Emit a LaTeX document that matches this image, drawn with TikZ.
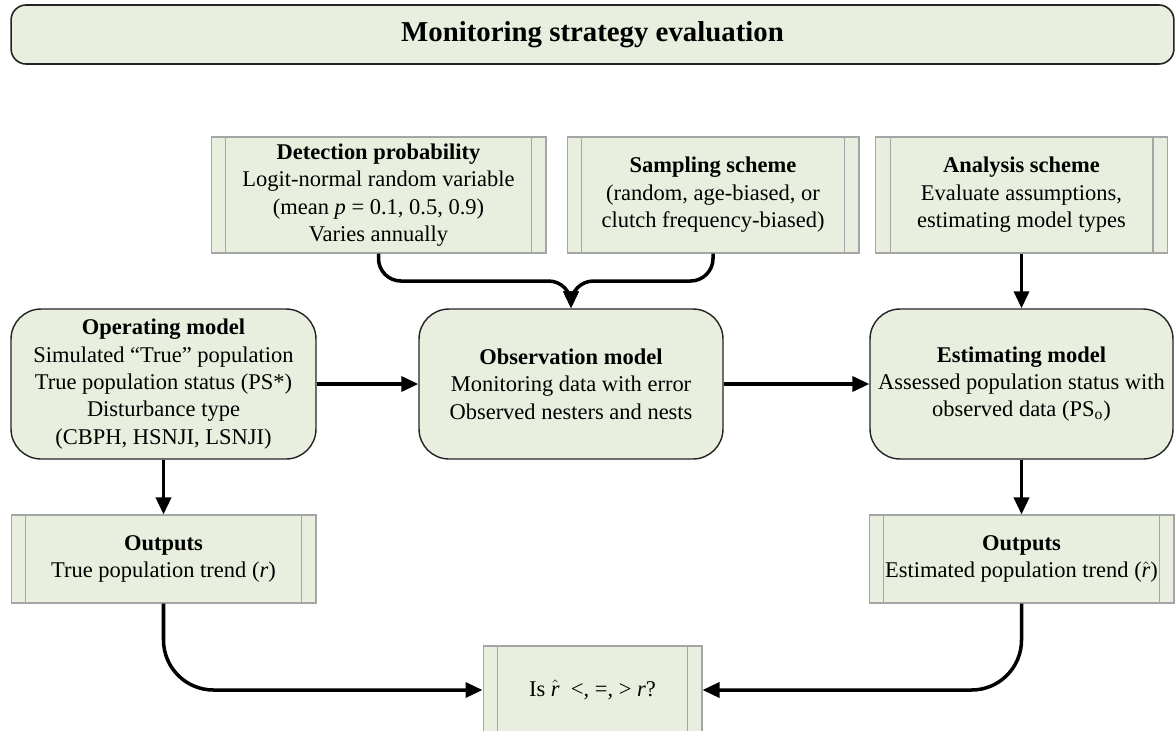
\documentclass[tikz,border=0pt]{standalone}
\usepackage{fontspec}
\setmainfont{Liberation Serif}
\usepackage{tikz}
\usetikzlibrary{arrows.meta, positioning}
\definecolor{boxfill}{RGB}{233,239,222}
\definecolor{edgegray}{RGB}{165,165,165}
\definecolor{edgedark}{RGB}{35,35,35}

\begin{document}
\begin{tikzpicture}[
    x=0.02cm, y=-0.02cm,
    font=\fontsize{12.8}{15.6}\selectfont,
    model/.style={draw=edgedark, fill=boxfill, line width=0.8pt, rounded corners=0.6cm, align=center, minimum height=3cm},
    process/.style={draw=edgegray, fill=boxfill, line width=0.6pt, align=center,
        path picture={
            \draw[edgegray, line width=0.6pt] ([xshift=0.29cm]path picture bounding box.north west) -- ([xshift=0.29cm]path picture bounding box.south west);
            \draw[edgegray, line width=0.6pt] ([xshift=-0.29cm]path picture bounding box.north east) -- ([xshift=-0.29cm]path picture bounding box.south east);
        }},
    flow/.style={line width=2pt, -{Triangle[length=0.34cm, width=0.3cm]}}
]
    \useasboundingbox (0,0) rectangle (1175,730);

    % Title
    \node[draw=edgedark, fill=boxfill, line width=0.9pt, rounded corners=0.3cm, minimum width=23.26cm, minimum height=1.18cm, font=\fontsize{16.4}{20}\selectfont\bfseries] (title) at (592.5,34.5) {Monitoring strategy evaluation};

    % Inputs
    \node[process, minimum width=6.7cm, minimum height=2.32cm] (detect) at (378.5,195) {\textbf{Detection probability}\\ Logit-normal random variable\\ (mean \textit{p} = 0.1, 0.5, 0.9)\\ Varies annually};
    \node[process, minimum width=5.84cm, minimum height=2.32cm] (sampling) at (713,195) {\textbf{Sampling scheme}\\ (random, age-biased, or\\ clutch frequency-biased)};
    \node[process, minimum width=5.84cm, minimum height=2.32cm] (analysis) at (1021.5,195) {\textbf{Analysis scheme}\\ Evaluate assumptions,\\ estimating model types};

    % Models
    \node[model, minimum width=6.1cm] (operating) at (163.5,384) {\textbf{Operating model}\\ Simulated ``True'' population\\ True population status (PS*)\\ Disturbance type\\ (CBPH, HSNJI, LSNJI)};
    \node[model, minimum width=6.08cm] (observation) at (571,384) {\textbf{Observation model}\\ Monitoring data with error\\ Observed nesters and nests};
    \node[model, minimum width=6.06cm] (estimating) at (1021.5,384) {\textbf{Estimating model}\\ Assessed population status with\\ observed data (PS\textsubscript{o})};

    % Outputs
    \node[process, minimum width=6.1cm, minimum height=1.76cm] (trueout) at (163.5,559) {\textbf{Outputs}\\ True population trend (\textit{r})};
    \node[process, minimum width=6.1cm, minimum height=1.76cm] (estout) at (1021.5,559) {\textbf{Outputs}\\ Estimated population trend ($\hat{\textit{r}}$)};
    \node[process, minimum width=4.38cm, minimum height=1.76cm] (compare) at (592.5,690) {Is $\hat{\textit{r}}$\enspace<, =, > \textit{r}?};

    % Connectors
    \draw[flow, rounded corners=0.45cm] (detect.south) -- ++(0,-0.55cm) -| (observation.north);
    \draw[flow, rounded corners=0.45cm] (sampling.south) -- ++(0,-0.55cm) -| (observation.north);
    \draw[flow] (analysis) -- (estimating);
    \draw[flow] (operating) -- (observation);
    \draw[flow] (observation) -- (estimating);
    \draw[flow] (operating) -- (trueout);
    \draw[flow] (estimating) -- (estout);
    \draw[flow, rounded corners=1cm] (trueout.south) |- (compare.west);
    \draw[flow, rounded corners=1cm] (estout.south) |- (compare.east);
\end{tikzpicture}
\end{document}
